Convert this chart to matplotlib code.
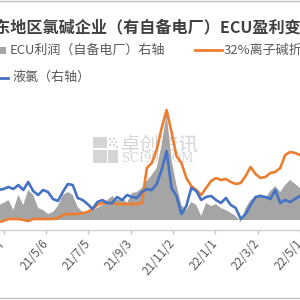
import matplotlib
matplotlib.use('Agg')
import matplotlib.pyplot as plt
import matplotlib.dates as mdates
from matplotlib.patches import Rectangle
from matplotlib.lines import Line2D
from matplotlib.ticker import FuncFormatter
import pandas as pd

plt.rcParams['font.family'] = ['Noto Sans CJK SC', 'DejaVu Sans']

# weekly samples
dates = pd.date_range('2021-02-28', periods=63, freq='7D')

# ECU利润（自备电厂），右轴，元/吨
ecu_profit = [375, 425, 500, 250, 625, 375, 750, 625, 300, 250,
              150, 200, 350, 625, 700, 625, 325, 200, 175, 250,
              300, 375, 500, 600, 500, 550, 425, 675, 700, 800,
              975, 1125, 1300, 1875, 2675, 1500, 875, 375, 250, 450,
              375, 100, 425, 350, 400, 300, 250, 175, 100, -50,
              300, 500, 575, 650, 550, 725, 850, 700, 875, 1000,
              900, 800, 750]

# 32%离子碱折百，左轴，元/吨
caustic = [2240, 2270, 2330, 2330, 2330, 2300, 2270, 2330, 2330, 2330,
           2330, 2330, 2360, 2450, 2480, 2480, 2480, 2510, 2540, 2630,
           2750, 2810, 2810, 2810, 2780, 2780, 2780, 2780, 2780, 2810,
           3860, 4010, 4400, 5060, 5600, 4940, 4220, 4010, 3560, 3320,
           3200, 3050, 3260, 3470, 3560, 3500, 3530, 3440, 3380, 3410,
           3620, 3890, 3680, 3560, 3590, 3710, 3740, 3860, 4250, 4340,
           4310, 4250, 4250]

# 液氯，右轴，元/吨
chlorine = [750, 775, 825, 775, 875, 750, 950, 725, 625, 750,
            700, 525, 475, 700, 900, 875, 550, 500, 400, 275,
            450, 500, 425, 425, 575, 500, 625, 575, 550, 700,
            775, 750, 900, 1250, 1725, 800, 600, 150, 350, 800,
            725, 500, 575, 600, 500, 425, 550, 375, 300, 25,
            150, 375, 575, 600, 575, 525, 750, 425, 500, 450,
            525, 600, 625]

tick_dates = pd.date_range('2021-03-07', '2022-05-01', freq='60D')

title = '山东地区氯碱企业（有自备电厂）ECU盈利变化'
legend_labels = ['ECU利润（自备电厂）右轴', '32%离子碱折百（左轴）', '液氯（右轴）']

c_gray = '#A5A5A5'
c_orange = '#ED7D31'
c_blue = '#4472C4'
c_text = '#595959'


def fx(px):
    return px / 300.0


def fy(py):
    return 1 - py / 300.0


fig = plt.figure(figsize=(3, 3), dpi=100)
ax = fig.add_axes([0, fy(230), 1, fy(95) - fy(230)])
ax.patch.set_visible(False)
ax.fill_between(dates, ecu_profit, 0, color=c_gray, lw=0)
ax_o = ax.twinx()
ax_o.plot(dates, caustic, color=c_orange, lw=1.9, solid_joinstyle='round')
ax_b = ax.twinx()
ax_b.plot(dates, chlorine, color=c_blue, lw=1.9, solid_joinstyle='round')

ax.set_ylim(-250, 3125)
ax_b.set_ylim(-250, 3125)
ax_o.set_ylim(2000, 6050)
ax.set_xlim(mdates.date2num(pd.Timestamp('2021-03-02')),
            mdates.date2num(pd.Timestamp('2022-04-30 12:00')))

for a in (ax, ax_o, ax_b):
    a.set_yticks([])
    for s in a.spines.values():
        s.set_visible(False)
ax.spines['bottom'].set_visible(True)
ax.spines['bottom'].set_color('#D0D0D0')
ax.spines['bottom'].set_linewidth(1)

ax.set_xticks(mdates.date2num(tick_dates))
ax.xaxis.set_major_formatter(FuncFormatter(
    lambda v, p: '{}/{}/{}'.format(mdates.num2date(v).year % 100,
                                   mdates.num2date(v).month,
                                   mdates.num2date(v).day)))
ax.tick_params(axis='x', length=3, width=1, color='#C8C8C8', pad=5,
               labelsize=8.5, labelcolor=c_text)
plt.setp(ax.get_xticklabels(), rotation=50, ha='right', va='center',
         rotation_mode='anchor')

# title
fig.text(fx(-22), fy(27), title, ha='left', va='center', fontsize=11.6,
         fontweight='bold', color='#404040')

# legend
fig.add_artist(Rectangle((fx(-1), fy(53.5)), fx(7), fy(46.5) - fy(53.5),
                         color=c_gray, lw=0))
fig.text(fx(10), fy(50), legend_labels[0], ha='left', va='center',
         fontsize=9.4, color=c_text)
fig.add_artist(Line2D([fx(195), fx(222)], [fy(50), fy(50)], color=c_orange, lw=2))
fig.text(fx(224), fy(50), legend_labels[1], ha='left', va='center',
         fontsize=9.4, color=c_text)
fig.add_artist(Line2D([fx(-5), fx(8)], [fy(78), fy(78)], color=c_blue, lw=2))
fig.text(fx(12), fy(77), legend_labels[2], ha='left', va='center',
         fontsize=9.4, color=c_text)

# watermark behind the data
wm = '#D5D5D5'
for (x0, y0, w, h) in [(93, 137, 14, 11), (93, 150, 14, 13), (108, 150, 10, 13)]:
    fig.add_artist(Rectangle((fx(x0), fy(y0 + h)), fx(w), fy(y0) - fy(y0 + h),
                             color=wm, lw=0, zorder=-1))
for (x0, y0) in [(109, 138), (113, 138), (111, 141), (115, 141), (109, 144), (113, 144), (116, 146)]:
    fig.add_artist(Rectangle((fx(x0), fy(y0 + 2)), fx(2), fy(y0) - fy(y0 + 2),
                             color=wm, lw=0, zorder=-1))
fig.text(fx(121), fy(145), '卓创资讯', ha='left', va='center', fontsize=14,
         color=wm, zorder=-1)
fig.text(fx(122), fy(159), 'SCI99.COM', ha='left', va='center', fontsize=8.5,
         family='DejaVu Serif', color=wm, zorder=-1)

# outer frame lines
fig.add_artist(Line2D([0, 1], [fy(0.5), fy(0.5)], color='#BFBFBF', lw=1))
fig.add_artist(Line2D([0, 1], [fy(298), fy(298)], color='#BFBFBF', lw=1))

fig.savefig('out.png', dpi=100)
